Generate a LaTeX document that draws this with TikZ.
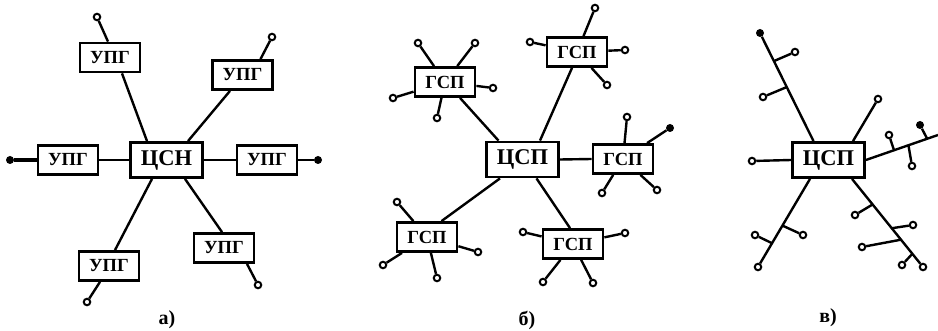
\documentclass[tikz,border=0pt]{standalone}
\usepackage{fontspec}
\setmainfont{Liberation Serif}
\usetikzlibrary{calc}
\begin{document}
\begin{tikzpicture}[x=1pt,y=-1pt,
  box/.style={draw,line width=2.8pt,inner sep=0pt,minimum width=60pt,minimum height=29pt,font=\fontsize{18.5}{18.5}\selectfont\bfseries},
  hub/.style={box,minimum width=72pt,minimum height=35pt,font=\fontsize{22.5}{22.5}\selectfont\bfseries},
  term/.style={circle,draw,line width=2pt,inner sep=0pt,minimum size=6.5pt,fill=white},
  dot/.style={circle,fill,inner sep=0pt,minimum size=8pt},
  wire/.style={line width=2.4pt},
  lab/.style={font=\fontsize{20}{20}\selectfont\bfseries}]
\useasboundingbox (0,0) rectangle (938,331);

% ---------- a) ----------
\node[hub] (csn) at (166.5,160) {ЦСН};
\node[box] (ua1) at (110,57.5) {УПГ};
\node[box] (ua2) at (242.5,75) {УПГ};
\node[box] (ua3) at (68,160) {УПГ};
\node[box] (ua4) at (267,160) {УПГ};
\node[box] (ua5) at (109,266) {УПГ};
\node[box] (ua6) at (224,248) {УПГ};
\node[term] (ta1) at (97,17) {};
\node[term] (ta2) at (272,37) {};
\node[dot] (ta3) at (10,160) {};
\node[dot] (ta4) at (318,160) {};
\node[term] (ta5) at (87,302) {};
\node[term] (ta6) at (258,285) {};
\draw[wire] ([xshift=-19.5pt]csn.north) -- ([xshift=12pt]ua1.south);
\draw[wire] ([xshift=21.5pt]csn.north) -- ([xshift=-12.5pt]ua2.south);
\draw[wire] (csn.west) -- (ua3.east);
\draw[wire] (csn.east) -- (ua4.west);
\draw[wire] ([xshift=-14.5pt]csn.south) -- ([xshift=6pt]ua5.north);
\draw[wire] ([xshift=18.5pt]csn.south) -- ([xshift=-2pt]ua6.north);
\draw[wire] ([xshift=-2pt]ua1.north) -- (ta1);
\draw[wire] ([xshift=18pt]ua2.north) -- (ta2);
\draw[wire,line width=3.4pt] (ua3.west) -- (ta3);
\draw[wire] (ua4.east) -- (ta4);
\draw[wire] ([xshift=-9pt]ua5.south) -- (ta5);
\draw[wire] ([xshift=23pt]ua6.south) -- (ta6);
\node[lab] (la) at (167,320) {а)};

% ---------- б) ----------
\node[hub] (cspb) at (522.5,159.5) {ЦСП};
\node[box] (g1) at (445,82) {ГСП};
\node[box] (g2) at (577,52) {ГСП};
\node[box] (g3) at (623,159) {ГСП};
\node[box] (g4) at (427,237) {ГСП};
\node[box] (g5) at (573,244) {ГСП};
\draw[wire] ([xshift=-24pt]cspb.north) -- ([xshift=15pt]g1.south);
\draw[wire] ([xshift=17.5pt]cspb.north) -- ([xshift=-5pt]g2.south);
\draw[wire] (cspb.east) -- (g3.west);
\draw[wire] ([xshift=-22.5pt]cspb.south) -- ([xshift=14.5pt]g4.north);
\draw[wire] ([xshift=14pt]cspb.south) -- ([xshift=-3pt]g5.north);
% terminals of g1
\node[term] (t11) at (418,43) {};
\node[term] (t12) at (475,43) {};
\node[term] (t13) at (393,98) {};
\node[term] (t14) at (493,88) {};
\node[term] (t15) at (437,118) {};
\foreach \t in {t11,t12,t13,t14,t15} \draw[wire] (g1) -- (\t);
% terminals of g2
\node[term] (t21) at (595,8) {};
\node[term] (t22) at (530,42) {};
\node[term] (t23) at (625,50) {};
\node[term] (t24) at (607,85) {};
\foreach \t in {t21,t22,t23,t24} \draw[wire] (g2) -- (\t);
% terminals of g3
\node[term] (t31) at (627,117) {};
\node[dot] (t32) at (670,128) {};
\node[term] (t33) at (602,193) {};
\node[term] (t34) at (657,190) {};
\foreach \t in {t31,t32,t33,t34} \draw[wire] (g3) -- (\t);
% terminals of g4
\node[term] (t41) at (397,202) {};
\node[term] (t42) at (383,265) {};
\node[term] (t43) at (478,252) {};
\node[term] (t44) at (437,278) {};
\foreach \t in {t41,t42,t43,t44} \draw[wire] (g4) -- (\t);
% terminals of g5
\node[term] (t51) at (523,232) {};
\node[term] (t52) at (625,233) {};
\node[term] (t53) at (543,282) {};
\node[term] (t54) at (593,283) {};
\foreach \t in {t51,t52,t53,t54} \draw[wire] (g5) -- (\t);
\node[lab] (lb) at (527,320) {б)};

% ---------- в) ----------
\node[hub] (cspc) at (828.5,160) {ЦСП};
% upper-left branch
\coordinate (s1) at ([xshift=-15pt]cspc.north);
\node[dot] (e1) at (760,33) {};
\coordinate (j11) at ($(s1)!0.74!(e1)$);
\coordinate (j12) at ($(s1)!0.5!(e1)$);
\node[term] (c11) at (795,52) {};
\node[term] (c12) at (763,97) {};
\draw[wire] (s1) -- (e1);
\draw[wire] (j11) -- (c11);
\draw[wire] (j12) -- (c12);
% upper-right
\node[term] (e2) at (878,99) {};
\draw[wire] ([xshift=24.5pt]cspc.north) -- (e2);
% left
\node[term] (e3) at (752,161) {};
\draw[wire] (cspc.west) -- (e3);
% right branch
\coordinate (e4) at (938,135);
\coordinate (j41) at ($(cspc.east)!0.39!(e4)$);
\coordinate (j42) at ($(cspc.east)!0.59!(e4)$);
\coordinate (j43) at ($(cspc.east)!0.85!(e4)$);
\node[term] (c41) at (889,135) {};
\node[term] (c42) at (912,166) {};
\node[dot] (c43) at (920,125) {};
\draw[wire] (cspc.east) -- (e4);
\draw[wire] (j41) -- (c41);
\draw[wire] (j42) -- (c42);
\draw[wire] (j43) -- (c43);
% lower-left branch
\coordinate (s5) at ([xshift=-18.5pt]cspc.south);
\node[term] (e5) at (758,267) {};
\coordinate (j51) at ($(s5)!0.53!(e5)$);
\coordinate (j52) at ($(s5)!0.73!(e5)$);
\node[term] (c51) at (803,235) {};
\node[term] (c52) at (755,235) {};
\draw[wire] (s5) -- (e5);
\draw[wire] (j51) -- (c51);
\draw[wire] (j52) -- (c52);
% lower-right branch
\coordinate (s6) at ([xshift=23.5pt]cspc.south);
\node[term] (e6) at (923,267) {};
\coordinate (j61) at ($(s6)!0.29!(e6)$);
\coordinate (j62) at ($(s6)!0.56!(e6)$);
\coordinate (j63) at ($(s6)!0.69!(e6)$);
\coordinate (j64) at ($(s6)!0.85!(e6)$);
\node[term] (c61) at (855,215) {};
\node[term] (c62) at (913,225) {};
\node[term] (c63) at (862,247) {};
\node[term] (c64) at (902,265) {};
\draw[wire] (s6) -- (e6);
\draw[wire] (j61) -- (c61);
\draw[wire] (j62) -- (c62);
\draw[wire] (j63) -- (c63);
\draw[wire] (j64) -- (c64);
\node[lab] (lc) at (828,318) {в)};
\end{tikzpicture}
\end{document}
